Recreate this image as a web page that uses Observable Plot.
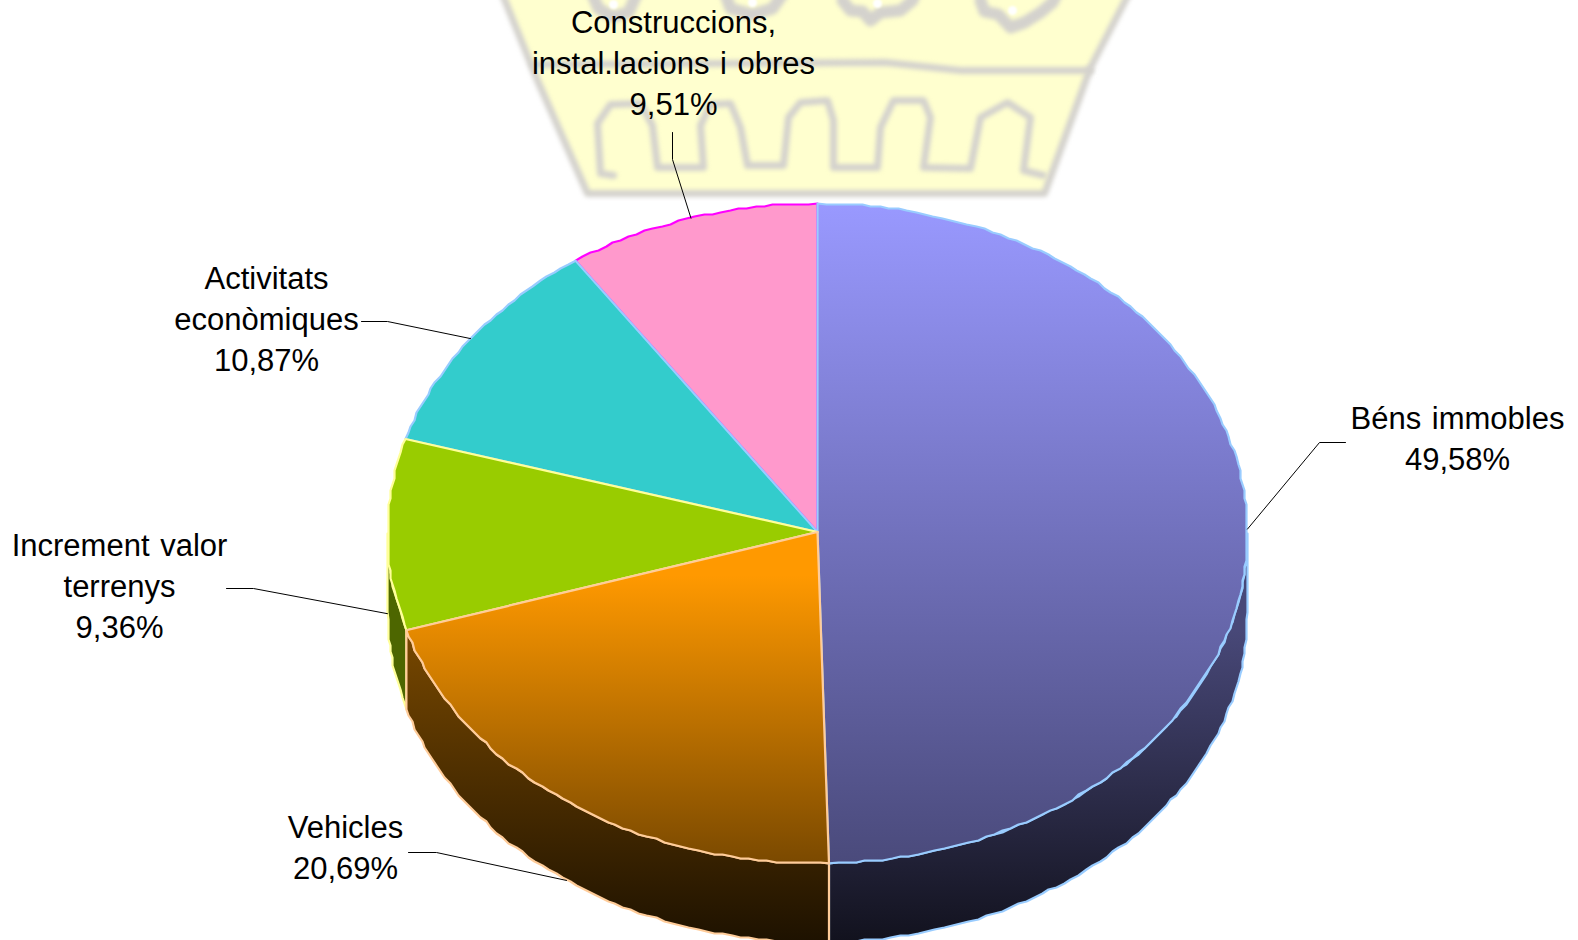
<!DOCTYPE html>
<html>
<head>
<meta charset="utf-8">
<style>html,body{margin:0;padding:0;background:#fff}svg{display:block}</style>
<script src="https://cdn.jsdelivr.net/npm/d3@7"></script>
<script src="https://cdn.jsdelivr.net/npm/@observablehq/plot@0.6"></script>
</head>
<body>
<div id="chart"></div>
<script>
// ---- chart values
const categories = ["Béns immobles", "Vehicles", "Increment valor\nterrenys", "Activitats\neconòmiques", "Construccions,\ninstal.lacions i obres"];
const shares = [49.58, 20.69, 9.36, 10.87, 9.51];

// ---- styles
const topFills = ["url(#topBens)", "url(#topVeh)", "#99cc00", "#33cccc", "#ff99cc"];
const wallFills = ["url(#wallBens)", "url(#wallVeh)", "#4d6600", "none", "none"];
const edges = ["#99ccff", "#ffcc99", "#ffff99", "#99ccff", "#ff00ff"];
const drawOrder = [4, 0, 3, 2, 1];
const wallOrder = [2, 0, 1];

// ---- label placement: centre of the text block, leader knee, leader start
const labelCentres = [[1457, 436], [345, 845], [119, 583.5], [266, 316.5], [673, 60]];
const leaderKnees = [[1319, 442], [436, 852], [253, 588], [387, 321], [672, 159]];
const leaderStarts = [[1345, 442], [408, 852], [226, 588], [361, 321], [672, 132]];
const leaderOnWall = [false, true, true, false, false];

// ---- pie geometry
const W = 1578, H = 940;
const cx = 817, cy = 533, apexY = 531.5, rx = 430, ry = 330, depth = 79;
const grid = 2, stepDeg = 1.2;
const q = v => Math.round(v / grid) * grid;
const rim = a => [cx + rx * Math.sin(a), cy - ry * Math.cos(a)];
const arcPoints = (a0, a1) => {
  const n = Math.max(2, Math.ceil((a1 - a0) * 180 / Math.PI / stepDeg));
  return d3.range(n + 1).map(i => {
    const [x, y] = rim(a0 + (a1 - a0) * i / n);
    return i === 0 || i === n ? [x, y] : [q(x), q(y)];
  });
};
const slices = d3.pie().sort(null)(shares);
const facePoints = s => [[cx, apexY], ...arcPoints(s.startAngle, s.endAngle), [cx, apexY]];
const wallPoints = s => {
  const a0 = Math.max(s.startAngle, Math.PI / 2), a1 = Math.min(s.endAngle, 1.5 * Math.PI);
  const top = arcPoints(a0, a1);
  return [...top, ...top.slice().reverse().map(([x, y]) => [x, y + depth]), top[0]];
};
const leaderPoints = i => {
  const s = slices[i], [x, y] = rim((s.startAngle + s.endAngle) / 2);
  return [leaderStarts[i], leaderKnees[i], [x, y + (leaderOnWall[i] ? depth : 0)]];
};
const labelText = i => `${categories[i]}\n${shares[i].toFixed(2).replace(".", ",")}%`;

// ---- faded crest behind the chart (decorative picture, traced)
const crestBody = [[502, -6], [537, 80], [587, 193], [1044, 193], [1090, 67], [1128, -6]];
const crestBand = [[533, 64], [885, 62], [960, 70], [1090, 70]];
const crestArches = [[613, 175], [600, 173], [597, 123], [610, 104], [640, 103], [652, 125], [657, 167], [703, 167], [700, 125], [710, 104], [730, 103], [740, 127], [747, 165], [783, 165], [788, 117], [800, 102], [827, 100], [833, 120], [833, 167], [877, 167], [880, 127], [893, 100], [923, 100], [930, 117], [923, 167], [970, 168], [980, 117], [1007, 102], [1030, 117], [1023, 170], [1043, 175]];
const crestBlobs = [
  [[592, -6], [598, 8], [612, 16], [628, 12], [636, -6]],
  [[725, -6], [730, 8], [752, 14], [772, 8], [782, -6]],
  [[842, 0], [850, 10], [862, 11], [870, 20], [880, 12], [900, 10], [912, 0], [914, -6]],
  [[980, 0], [984, 11], [998, 14], [1010, 27], [1024, 22], [1040, 12], [1052, 2], [1056, -6]]
];
const crestDots = [[613, 4], [752, 2], [877, 3], [1012, 10]];

// ---- gradients
const stop = (g, o, c) => {
  const s = document.createElementNS("http://www.w3.org/2000/svg", "stop");
  s.setAttribute("offset", o); s.setAttribute("stop-color", c); g.appendChild(s);
};
const gradient = (id, y0, y1, c0, c1) => (defs, scales) => {
  const g = document.createElementNS("http://www.w3.org/2000/svg", "linearGradient");
  g.setAttribute("id", id);
  g.setAttribute("gradientUnits", "userSpaceOnUse");
  g.setAttribute("x1", 0); g.setAttribute("x2", 0);
  g.setAttribute("y1", scales.y(y0)); g.setAttribute("y2", scales.y(y1));
  stop(g, 0, c0); stop(g, 1, c1);
  defs.appendChild(g);
};
const gradients = [
  gradient("topBens", cy - ry, cy + ry, "#9999ff", "#4a4a7b"),
  gradient("topVeh", 575, cy + ry, "#ff9900", "#7a4900"),
  gradient("wallBens", cy + 97, H, "#484878", "#12121e"),
  gradient("wallVeh", cy + 97, H, "#784800", "#1e1200")
];
const defsMark = (index, scales) => {
  const defs = document.createElementNS("http://www.w3.org/2000/svg", "defs");
  gradients.forEach(g => g(defs, scales));
  return defs;
};
const px = {x: d => d[0], y: d => d[1]};
const crestStyle = {...px, stroke: "#d4d2cd", strokeWidth: 7, imageFilter: "blur(2px)", strokeLinejoin: "round"};

const chart = Plot.plot({
  width: W,
  height: H,
  margin: 0,
  x: {domain: [0, W], range: [0, W], axis: null},
  y: {domain: [0, H], range: [0, H], axis: null},
  style: {fontFamily: "'Liberation Sans', Arial, sans-serif", wordSpacing: "2px", background: "#fff", overflow: "hidden"},
  marks: [
    defsMark,
    Plot.line(crestBody, {...px, fill: "#ffffcf", stroke: "none", imageFilter: "blur(1.5px)"}),
    Plot.line(crestBody, crestStyle),
    Plot.line(crestBand, crestStyle),
    Plot.line(crestArches, crestStyle),
    ...crestBlobs.map(b => Plot.line(b, {...crestStyle, strokeWidth: 12})),
    Plot.dot(crestDots, {...px, r: 4.5, fill: "#fff", imageFilter: "blur(1px)"}),
    ...wallOrder.map(i => Plot.line(wallPoints(slices[i]), {...px, fill: wallFills[i], stroke: edges[i], strokeWidth: 2.2})),
    ...drawOrder.map(i => Plot.line(facePoints(slices[i]), {...px, fill: topFills[i], stroke: edges[i], strokeWidth: 2.2})),
    ...categories.map((c, i) => Plot.line(leaderPoints(i), {...px, stroke: "#000", strokeWidth: 1})),
    Plot.text(categories.map((c, i) => i), {
      x: i => labelCentres[i][0],
      y: i => labelCentres[i][1],
      text: labelText,
      fontSize: 31,
      lineHeight: 1.32,
      lineAnchor: "middle",
      textAnchor: "middle",
      fill: "#000"
    })
  ]
});
document.getElementById("chart").appendChild(chart);
</script>
</body>
</html>
